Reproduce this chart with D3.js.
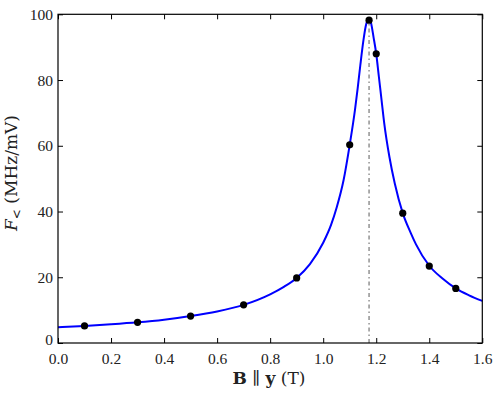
<!DOCTYPE html>
<html><head><meta charset="utf-8">
<script src="https://cdn.jsdelivr.net/npm/d3@7"></script>
<style>body{margin:0;background:#fff}svg{display:block}</style>
</head><body><svg id="c" width="498" height="396"></svg>
<script>
const xTicks = [0.0,0.2,0.4,0.6,0.8,1.0,1.2,1.4,1.6];
const yTicks = [0,20,40,60,80,100];
const dataB = [0.1,0.3,0.5,0.7,0.9,1.1,1.173,1.2,1.3,1.4,1.5];
const dataF = [5.2,6.3,8.2,11.6,19.8,60.3,98.2,88.0,39.5,23.4,16.6];
const fitB = [0.0,0.1,0.2,0.3,0.4,0.5,0.6,0.7,0.8,0.85,0.9,0.95,1.0,1.03,1.05,1.077,1.1,1.12,1.13,1.14,1.152,1.16,1.165,1.172,1.18,1.19,1.2,1.21,1.22,1.23,1.25,1.27,1.3,1.33,1.35,1.4,1.45,1.5,1.55,1.6];
const fitF = [4.8,5.2,5.7,6.3,7.1,8.2,9.6,11.6,14.8,17.0,19.8,24.0,30.5,36.0,41.0,49.6,60.3,71.0,77.5,84.5,92.2,96.2,97.8,98.9,97.5,93.0,88.0,81.0,74.0,67.0,56.5,48.5,39.5,33.5,30.0,23.5,19.6,16.6,14.5,12.8];
const peakB = 1.173, peakF = 98.2;

const svg = d3.select("#c");
const L=58, T=14.3, R=482.3, B=343;
const x = d3.scaleLinear().domain([0,1.6]).range([L,R]);
const y = d3.scaleLinear().domain([0,100]).range([B,T]);
const font = "'Liberation Serif','DejaVu Serif',serif";
const lfont = "'DejaVu Serif',serif";

// dotted peak marker
svg.append("line").attr("x1",x(peakB)).attr("x2",x(peakB)).attr("y1",y(0)).attr("y2",y(peakF))
  .attr("stroke","#999").attr("stroke-width",1.6).attr("stroke-dasharray","4,3,1.5,3");

// fit curve
const pts = fitB.map((b,i)=>[b,fitF[i]]);
svg.append("path").datum(pts)
  .attr("d", d3.line().x(d=>x(d[0])).y(d=>y(d[1])).curve(d3.curveMonotoneX))
  .attr("fill","none").attr("stroke","#0000ff").attr("stroke-width",2);

// dots
svg.selectAll("circle.d").data(dataB).join("circle")
  .attr("cx",d=>x(d)).attr("cy",(d,i)=>y(dataF[i])).attr("r",3.6).attr("fill","#000");

// axes (inward ticks on all sides)
const ax = (g)=>{g.selectAll(".domain").remove(); g.selectAll("text").attr("font-family",font).attr("font-size",15.5).attr("fill","#222");};
svg.append("g").attr("transform",`translate(0,${B})`)
  .call(d3.axisBottom(x).tickValues(xTicks).tickFormat(d3.format(".1f")).tickSizeInner(-5).tickSizeOuter(0).tickPadding(10))
  .call(ax);
svg.append("g").attr("transform",`translate(0,${T})`)
  .call(d3.axisTop(x).tickValues(xTicks).tickFormat("").tickSizeInner(-5).tickSizeOuter(0)).call(ax);
svg.append("g").attr("transform",`translate(${L},0)`)
  .call(d3.axisLeft(y).tickValues(yTicks).tickFormat(d3.format("d")).tickSizeInner(-5).tickSizeOuter(0).tickPadding(5))
  .call(ax);
svg.append("g").attr("transform",`translate(${R},0)`)
  .call(d3.axisRight(y).tickValues(yTicks).tickFormat("").tickSizeInner(-5).tickSizeOuter(0)).call(ax);
svg.selectAll(".tick line").attr("stroke","#000").attr("stroke-width",1);
// lift the bottom-left "0" slightly so it clears the "0.0" label
svg.selectAll("g").filter(function(){return this.getAttribute("transform")===`translate(${L},0)`;})
  .selectAll(".tick text").filter(d=>d===0).attr("dy","0.1em");

svg.append("rect").attr("x",L).attr("y",T).attr("width",R-L).attr("height",B-T)
  .attr("fill","none").attr("stroke","#000").attr("stroke-width",1.2);

// x label
const xl = svg.append("text").attr("x",269).attr("y",384).attr("text-anchor","middle")
  .attr("font-family",lfont).attr("font-size",17).attr("fill","#222");
xl.append("tspan").attr("font-weight","bold").text("B");
xl.append("tspan").text(" \u2225 ");
xl.append("tspan").attr("font-weight","bold").text("y");
xl.append("tspan").text(" (T)");

// y label
const yl = svg.append("text").attr("transform",`translate(17,173) rotate(-90)`).attr("text-anchor","middle")
  .attr("font-family",lfont).attr("font-size",17).attr("fill","#222");
yl.append("tspan").attr("font-style","italic").text("F");
yl.append("tspan").attr("font-size",12).attr("dy",4).text("<");
yl.append("tspan").attr("dy",-4).text(" (MHz/mV)");
</script></body></html>
